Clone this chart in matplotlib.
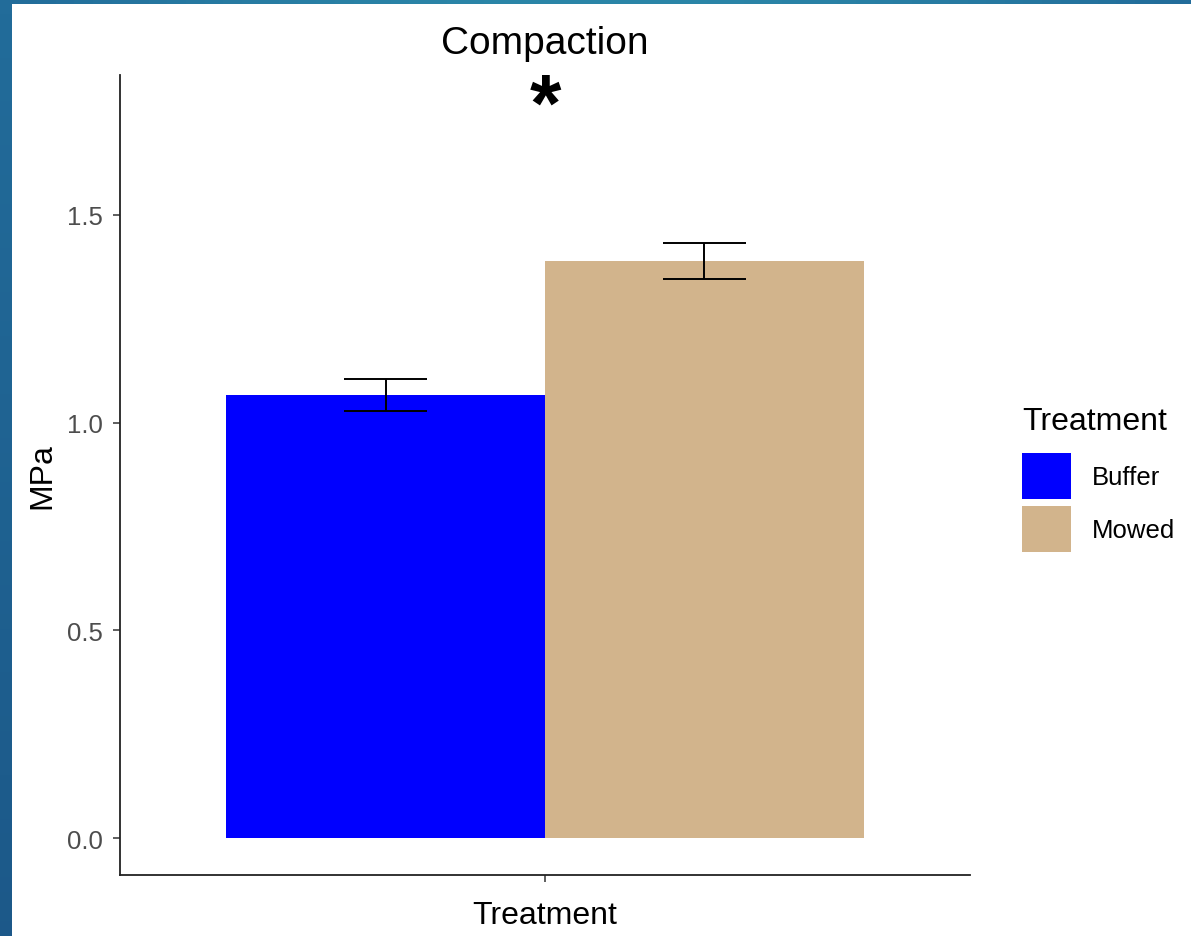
import numpy as np
import matplotlib
matplotlib.use("Agg")
import matplotlib.pyplot as plt
from matplotlib.patches import Rectangle, Patch

plt.rcParams["font.family"] = ["Liberation Sans", "DejaVu Sans"]

# compaction means and standard errors (MPa)
treatments = ["Buffer", "Mowed"]
means = [1.067, 1.390]
errors = [0.039, 0.043]
colors = ["#0000ff", "#d2b48c"]
yticks = [0.0, 0.5, 1.0, 1.5]
star_y = 1.755

W, H = 1191, 937
fig = plt.figure(figsize=(W / 100, H / 100), dpi=100)

# slide background with a white panel on top
bg = fig.add_axes([0, 0, 1, 1], zorder=-10)
gx = np.linspace(0, 1, 64)
gy = np.linspace(0, 1, 64)
GX, GY = np.meshgrid(gx, gy)
c1 = np.array([0x22, 0x6c, 0x9a]) / 255
c2 = np.array([0x2b, 0x86, 0xa8]) / 255
c3 = np.array([0x18, 0x4c, 0x7e]) / 255
t = np.clip(np.sin(np.pi * GX)[..., None] * (1 - GY[..., None]), 0, 1)
grad = c1 * (1 - t) + c2 * t
grad = grad * (1 - 0.6 * GY[..., None]) + c3 * 0.6 * GY[..., None]
bg.imshow(grad, extent=[0, 1, 0, 1], aspect="auto", origin="upper")
bg.add_patch(Rectangle((12 / W, 0), 1, 1 - 5 / H, facecolor="white",
                       edgecolor="none", transform=bg.transAxes))
bg.set_xlim(0, 1)
bg.set_ylim(0, 1)
bg.axis("off")

ax = fig.add_axes([120 / W, 1 - 876 / H, 850 / W, 800 / H])
ax.set_facecolor("none")

width = 0.45
xs = [1 - width / 2, 1 + width / 2]
bars = ax.bar(xs, means, width=width, color=colors, edgecolor="none")
ax.errorbar(xs, means, yerr=errors, fmt="none", ecolor="black",
            elinewidth=1.4, capsize=0, zorder=3)
for x, m, e in zip(xs, means, errors):
    for yy in (m - e, m + e):
        ax.hlines(yy, x - 0.059, x + 0.059, color="black", lw=1.4, zorder=3)

ax.text(1, star_y, "*", ha="center", va="center", fontsize=58,
        fontweight="bold", color="black")

ax.set_xlim(0.4, 1.6)
ax.set_ylim(-0.089, 1.837)
ax.set_xticks([1])
ax.set_xticklabels([""])
ax.set_yticks(yticks)
ax.set_yticklabels([f"{v:.1f}" for v in yticks])
ax.tick_params(axis="both", length=5, width=1.1, color="#333333",
               labelsize=18.5, labelcolor="#4d4d4d", pad=7)
for side in ("top", "right"):
    ax.spines[side].set_visible(False)
for side in ("left", "bottom"):
    ax.spines[side].set_linewidth(1.3)
    ax.spines[side].set_color("#222222")

ax.set_title("Compaction", fontsize=28, pad=16)
ax.set_xlabel("Treatment", fontsize=23, labelpad=6)
ax.set_ylabel("MPa", fontsize=23, labelpad=7)

handles = [Patch(facecolor=c, edgecolor="none") for c in colors]
leg = fig.legend(handles, treatments, title="Treatment", loc="upper left",
                 bbox_to_anchor=(1022 / W, 1 - 407 / H), frameon=False,
                 fontsize=18.5, title_fontsize=23, handlelength=1.9,
                 handleheight=2.38, handletextpad=0.8, labelspacing=0.25,
                 borderpad=0, borderaxespad=0, alignment="left")
# more room between the legend title and the keys
leg._legend_box.sep = 12.5

fig.savefig("out.png", dpi=100)
